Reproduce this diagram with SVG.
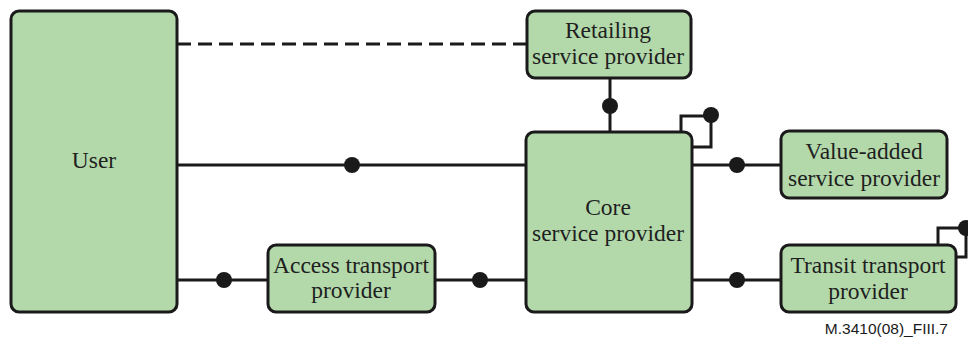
<svg xmlns="http://www.w3.org/2000/svg" width="968" height="343" viewBox="0 0 968 343">
  <style>
    .box { fill: #b3d9ab; stroke: #1a1a1a; stroke-width: 3; }
    .lbl { font-family: 'Liberation Serif', 'DejaVu Serif', 'Times New Roman', serif; font-size: 23.5px; fill: #1f1f1f; text-anchor: middle; }
    .wire { fill: none; stroke: #1a1a1a; stroke-width: 3; }
    .dash { stroke-dasharray: 14 7; }
    .dot { fill: #1a1a1a; }
    .ref { font-family: 'Liberation Sans', Arial, sans-serif; font-size: 15.5px; fill: #1a1a1a; text-anchor: end; }
  </style>

  <g id="connectors">
    <line class="wire dash" x1="177" y1="44" x2="527" y2="44"/>
    <line class="wire" x1="177" y1="165" x2="526" y2="165"/>
    <circle class="dot" cx="352" cy="165" r="8"/>
    <line class="wire" x1="177" y1="280" x2="268" y2="280"/>
    <circle class="dot" cx="224" cy="280" r="8"/>
    <line class="wire" x1="435" y1="280" x2="526" y2="280"/>
    <circle class="dot" cx="480" cy="280" r="8"/>
    <line class="wire" x1="610" y1="78" x2="610" y2="132"/>
    <circle class="dot" cx="610" cy="106" r="8"/>
    <polyline class="wire" points="681,132 681,116 711,116 711,147 692,147"/>
    <circle class="dot" cx="711" cy="115" r="8"/>
    <line class="wire" x1="692" y1="165" x2="781" y2="165"/>
    <circle class="dot" cx="737" cy="165" r="8"/>
    <line class="wire" x1="692" y1="280" x2="781" y2="280"/>
    <circle class="dot" cx="737" cy="280" r="8"/>
    <polyline class="wire" points="938,245 938,228 966,228 966,257 956,257"/>
    <circle class="dot" cx="966" cy="228" r="8"/>
  </g>

  <g id="user">
    <rect class="box" x="11" y="11" width="166" height="301" rx="8"/>
    <text class="lbl" x="94" y="168">User</text>
  </g>

  <g id="retailing">
    <rect class="box" x="527" y="11" width="164" height="67" rx="8"/>
    <text class="lbl" x="608" y="38">Retailing</text>
    <text class="lbl" x="608" y="64">service provider</text>
  </g>

  <g id="core">
    <rect class="box" x="526" y="132" width="166" height="180" rx="8"/>
    <text class="lbl" x="608" y="215">Core</text>
    <text class="lbl" x="608" y="241">service provider</text>
  </g>

  <g id="value-added">
    <rect class="box" x="781" y="131" width="166" height="67" rx="8"/>
    <text class="lbl" x="864" y="159">Value-added</text>
    <text class="lbl" x="864" y="186">service provider</text>
  </g>

  <g id="transit">
    <rect class="box" x="781" y="245" width="175" height="67" rx="8"/>
    <text class="lbl" x="868" y="273">Transit transport</text>
    <text class="lbl" x="868" y="299">provider</text>
  </g>

  <g id="access">
    <rect class="box" x="268" y="245" width="167" height="67" rx="8"/>
    <text class="lbl" x="351" y="273">Access transport</text>
    <text class="lbl" x="351" y="298">provider</text>
  </g>

  <text class="ref" x="948" y="334">M.3410(08)_FIII.7</text>
</svg>
